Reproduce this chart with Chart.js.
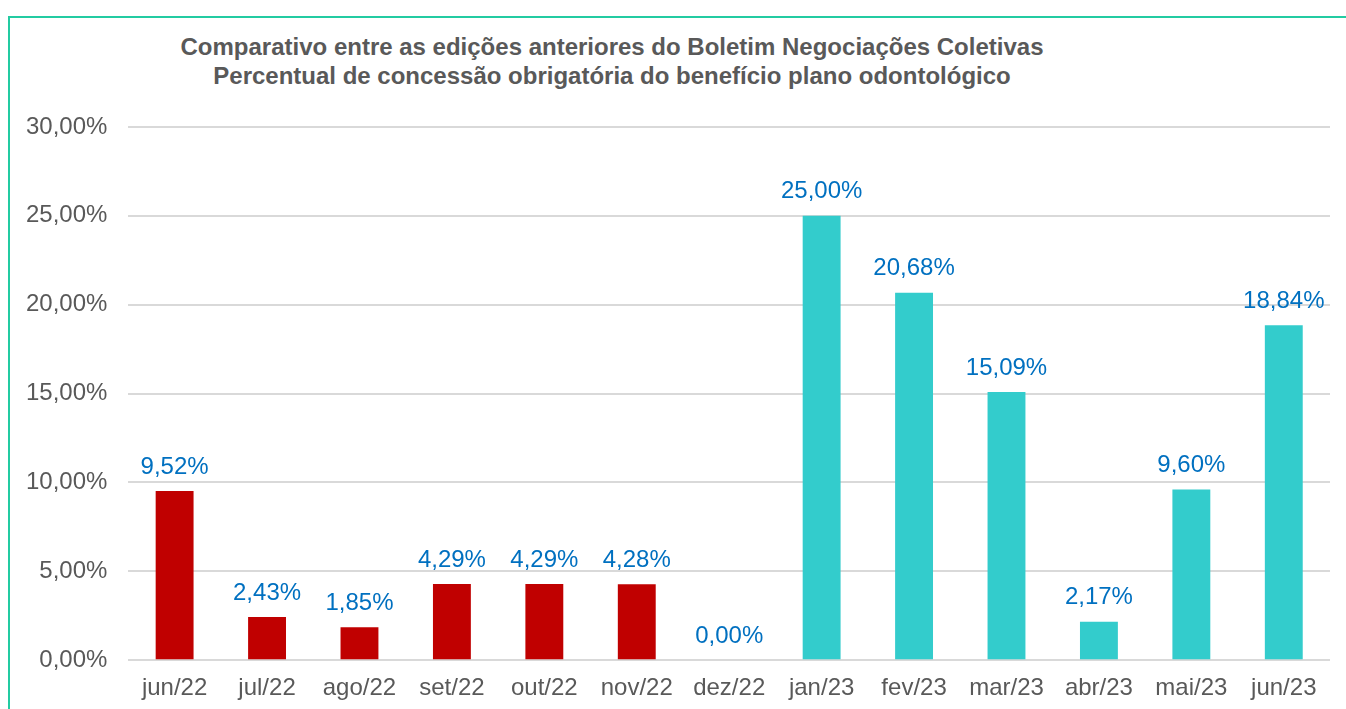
<!DOCTYPE html>
<html>
<head>
<meta charset="utf-8">
<script src="https://cdn.jsdelivr.net/npm/chart.js@4"></script>
<style>
  html, body { margin: 0; padding: 0; background: #fff; overflow: hidden; }
  #frame {
    position: absolute; left: 8px; top: 16px; width: 1400px; height: 760px;
    border: 2px solid #23cba2; box-sizing: border-box;
  }
  #title {
    position: absolute; left: 112px; width: 1000px; top: 32px;
    text-align: center; font: bold 24px "Liberation Sans", Arial, sans-serif;
    color: #595959; line-height: 29px; white-space: nowrap;
  }
  #wrap { position: absolute; left: 0; top: 0; width: 1346px; height: 717px; }
</style>
</head>
<body>
<div id="frame"></div>
<div id="title">Comparativo entre as edições anteriores do Boletim Negociações Coletivas<br>Percentual de concessão obrigatória do benefício plano odontológico</div>
<div id="wrap"><canvas id="chart"></canvas></div>
<script>
// Data
const months = ['jun/22', 'jul/22', 'ago/22', 'set/22', 'out/22', 'nov/22', 'dez/22',
  'jan/23', 'fev/23', 'mar/23', 'abr/23', 'mai/23', 'jun/23'];
const percentValues = [9.52, 2.43, 1.85, 4.29, 4.29, 4.28, 0.00,
  25.00, 20.68, 15.09, 2.17, 9.60, 18.84];
const barColors = ['#C00000', '#C00000', '#C00000', '#C00000', '#C00000', '#C00000', '#C00000',
  '#33CCCC', '#33CCCC', '#33CCCC', '#33CCCC', '#33CCCC', '#33CCCC'];
const yTicks = [0, 5, 10, 15, 20, 25, 30];

function fmt(v) {
  return v.toFixed(2).replace('.', ',') + '%';
}

// simple value labels above bars
const valueLabels = {
  id: 'valueLabels',
  afterDatasetsDraw(chart) {
    const ctx = chart.ctx;
    const meta = chart.getDatasetMeta(0);
    ctx.save();
    ctx.font = '24px "Liberation Sans", Arial, sans-serif';
    ctx.fillStyle = '#0070C0';
    ctx.textAlign = 'center';
    ctx.textBaseline = 'bottom';
    meta.data.forEach((bar, i) => {
      ctx.fillText(fmt(percentValues[i]), bar.x, bar.y - 12);
    });
    ctx.restore();
  }
};

const ctx = document.getElementById('chart').getContext('2d');
new Chart(ctx, {
  type: 'bar',
  data: {
    labels: months,
    datasets: [{
      data: percentValues,
      backgroundColor: barColors,
      barPercentage: 0.41,
      categoryPercentage: 1.0
    }]
  },
  options: {
    responsive: true,
    maintainAspectRatio: false,
    animation: false,
    layout: { padding: { top: 127, left: 5, right: 16, bottom: 0 } },
    plugins: {
      legend: { display: false },
      tooltip: { enabled: false }
    },
    scales: {
      x: {
        grid: { display: false, drawTicks: false },
        border: { display: false },
        ticks: {
          color: '#595959', padding: 14,
          font: { size: 24, family: '"Liberation Sans", Arial, sans-serif' }
        }
      },
      y: {
        min: 0, max: 30,
        afterBuildTicks(axis) { axis.ticks = yTicks.map(v => ({ value: v })); },
        grid: { color: '#D9D9D9', lineWidth: 2, drawTicks: false },
        border: { display: false },
        ticks: {
          color: '#595959', padding: 21,
          font: { size: 24, family: '"Liberation Sans", Arial, sans-serif' },
          callback: v => fmt(v)
        }
      }
    }
  },
  plugins: [valueLabels]
});
</script>
</body>
</html>
